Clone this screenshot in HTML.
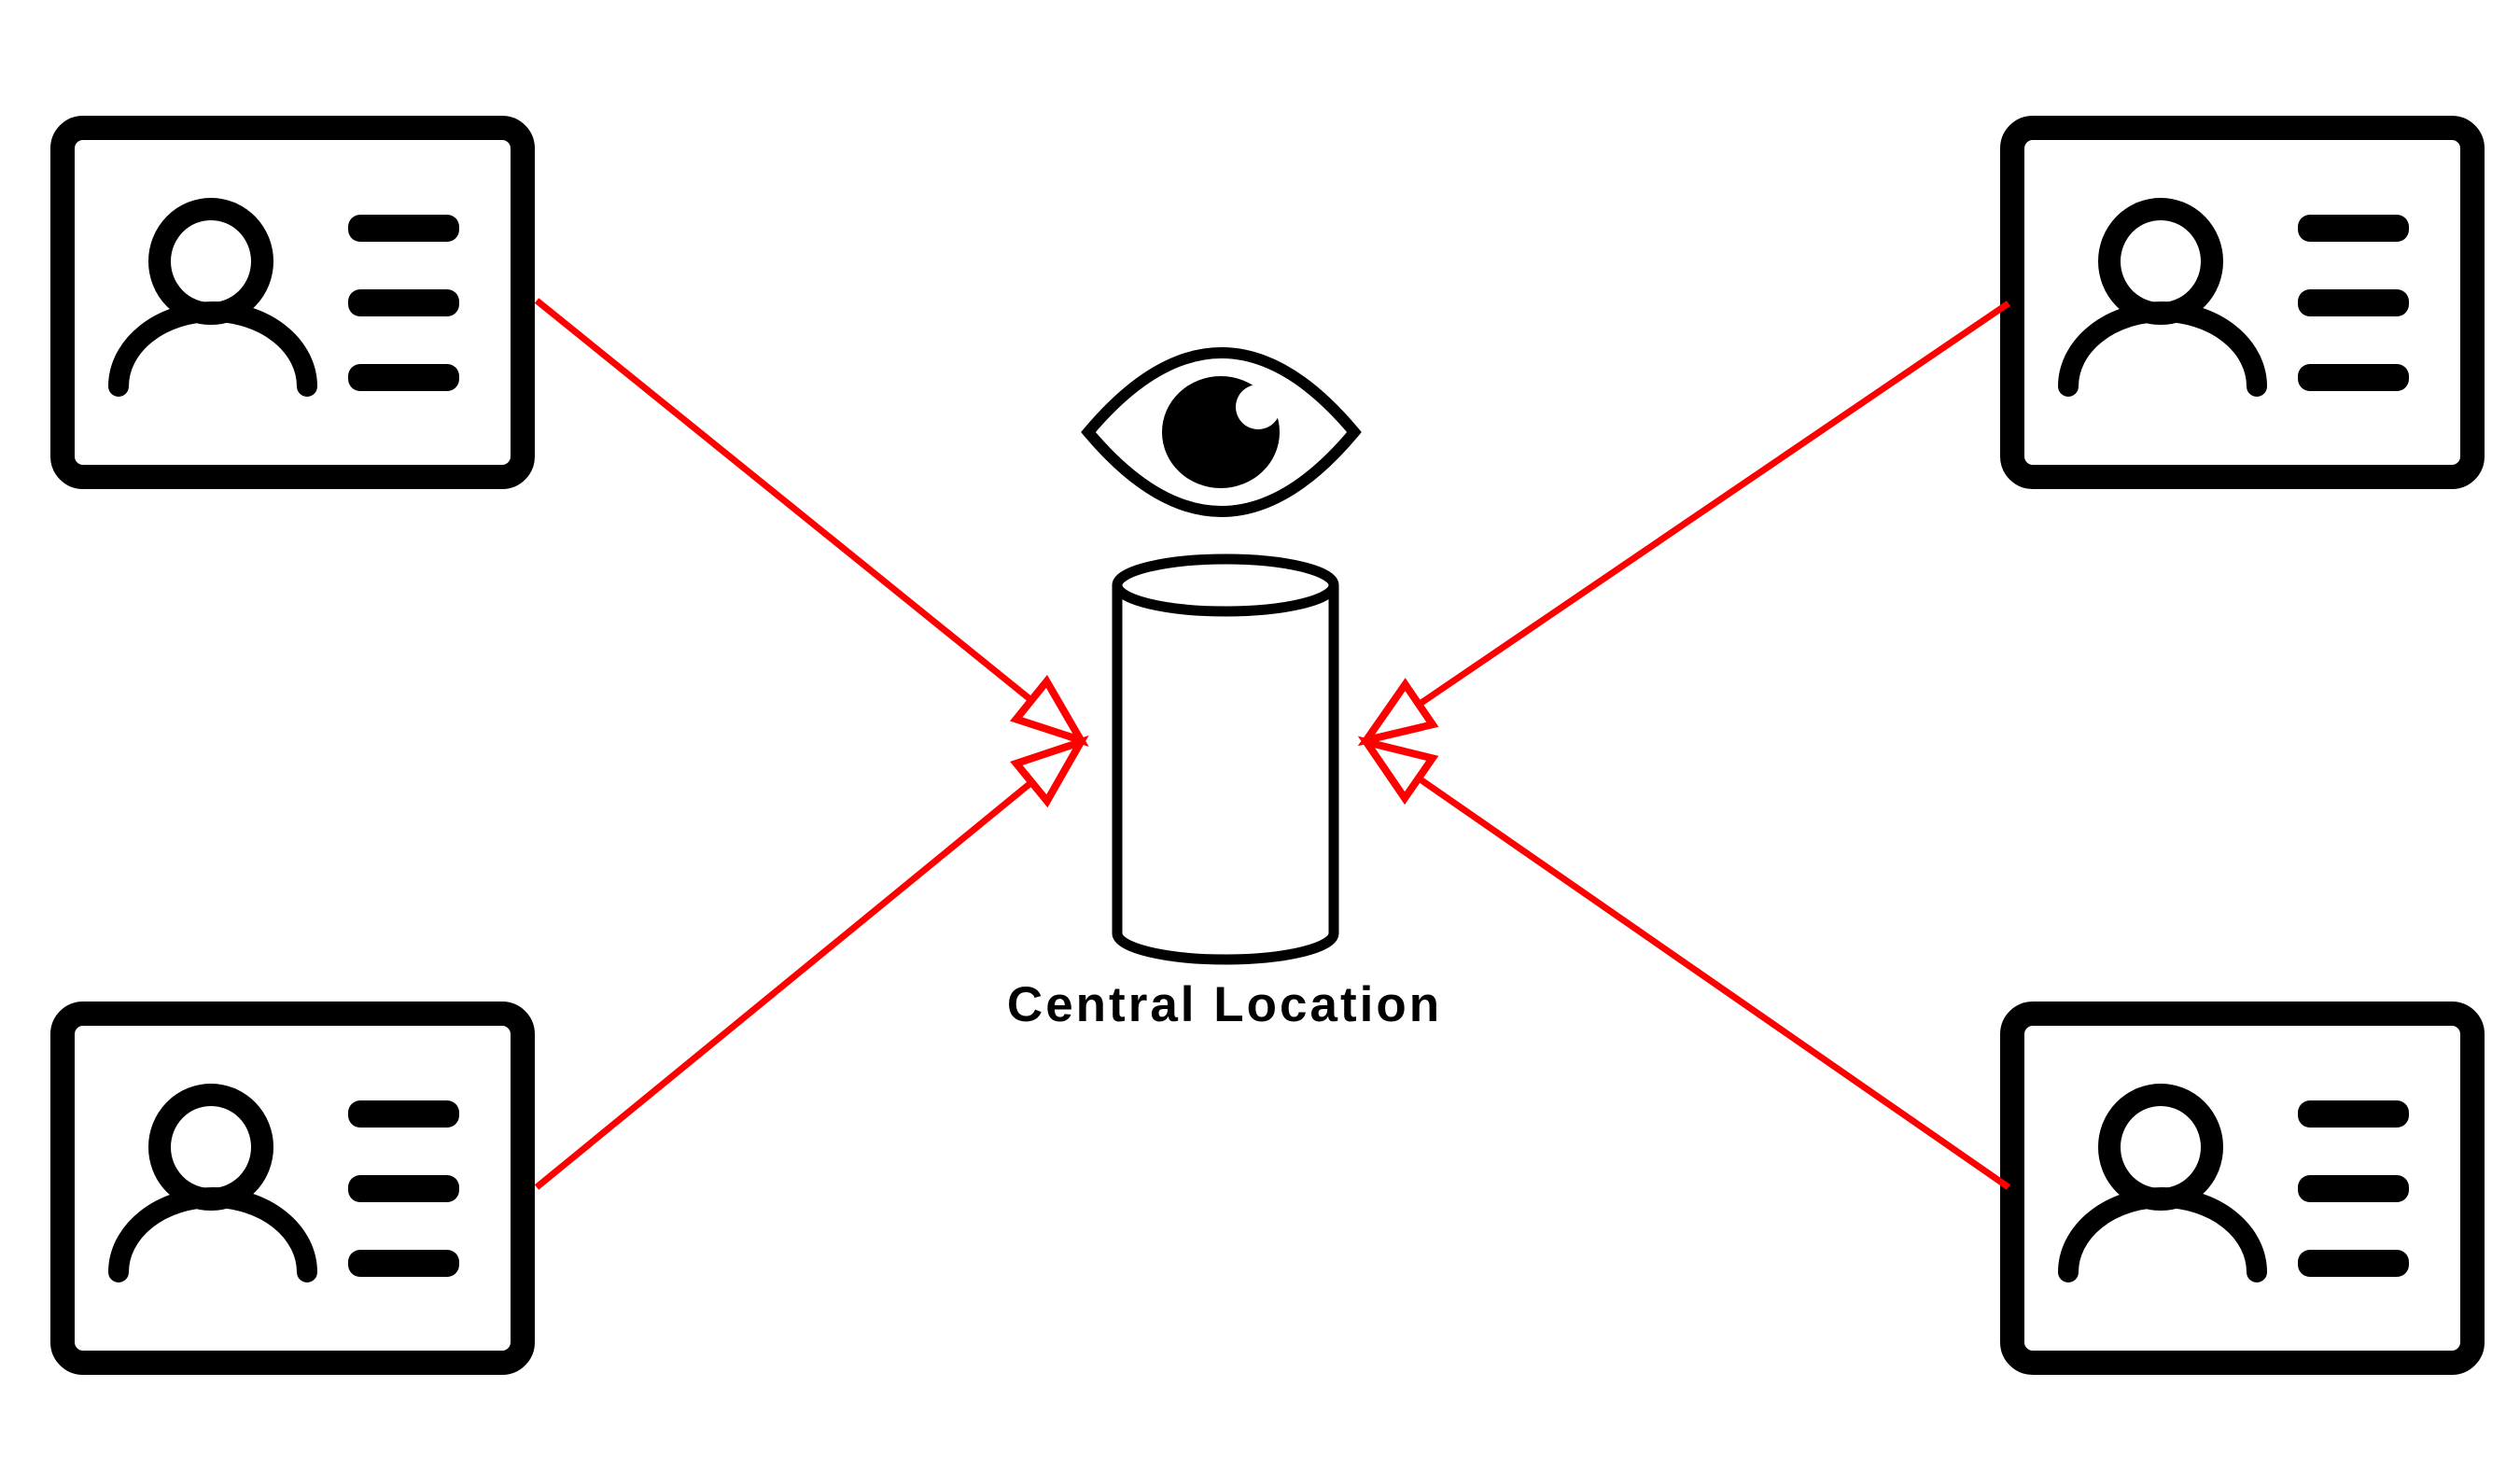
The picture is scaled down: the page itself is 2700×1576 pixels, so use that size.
<!DOCTYPE html>
<html><head><meta charset="utf-8"><style>
html,body{margin:0;padding:0;background:#fff;}
svg{display:block;}
</style></head><body>
<svg width="2700" height="1576" viewBox="0 0 2700 1576" xmlns="http://www.w3.org/2000/svg">
<defs>
<g id="card">
<rect x="13" y="13" width="493" height="374" rx="22" fill="#fff" stroke="#000" stroke-width="26"/>
<ellipse cx="172" cy="156" rx="55" ry="56" fill="none" stroke="#000" stroke-width="24"/>
<path d="M73 290 A 101 80 0 0 1 275 290" fill="none" stroke="#000" stroke-width="22" stroke-linecap="round"/>
<rect x="319" y="106" width="119" height="29" rx="13" fill="#000"/>
<rect x="319" y="186" width="119" height="29" rx="13" fill="#000"/>
<rect x="319" y="266" width="119" height="29" rx="13" fill="#000"/>
</g>
<marker id="ah" markerUnits="userSpaceOnUse" markerWidth="100" markerHeight="80" refX="80" refY="40" orient="auto" viewBox="0 0 100 80">
<path d="M80 40 L12 14 L12 66 Z" fill="#fff" stroke="#ff0000" stroke-width="8" stroke-linejoin="miter"/>
</marker>
</defs>
<use href="#card" x="54" y="124"/>
<use href="#card" x="2143" y="124"/>
<use href="#card" x="54" y="1073"/>
<use href="#card" x="2143" y="1073"/>
<g stroke="#ff0000" stroke-width="7" fill="none">
<line x1="575" y1="322" x2="1158" y2="793" marker-end="url(#ah)"/>
<line x1="575" y1="1272" x2="1158" y2="795" marker-end="url(#ah)"/>
<line x1="2152" y1="325" x2="1464" y2="793" marker-end="url(#ah)"/>
<line x1="2152" y1="1272" x2="1464" y2="795" marker-end="url(#ah)"/>
</g>
<path d="M1166 463 Q1309 293 1451 463 Q1309 633 1166 463 Z" fill="#fff" stroke="#000" stroke-width="12" stroke-linejoin="miter"/>
<ellipse cx="1308" cy="463" rx="63" ry="60" fill="#000"/>
<circle cx="1348" cy="436" r="24" fill="#fff"/>
<path d="M1197 627 L1197 1000 A 116 28 0 0 0 1429 1000 L1429 627" fill="#fff" stroke="#000" stroke-width="11"/>
<ellipse cx="1313" cy="627" rx="116" ry="28" fill="#fff" stroke="#000" stroke-width="11"/>
<text x="1312" y="1094" text-anchor="middle" font-family="Liberation Sans, sans-serif" font-weight="bold" font-size="53" letter-spacing="3" fill="#000">Central Location</text>
</svg>
</body></html>
